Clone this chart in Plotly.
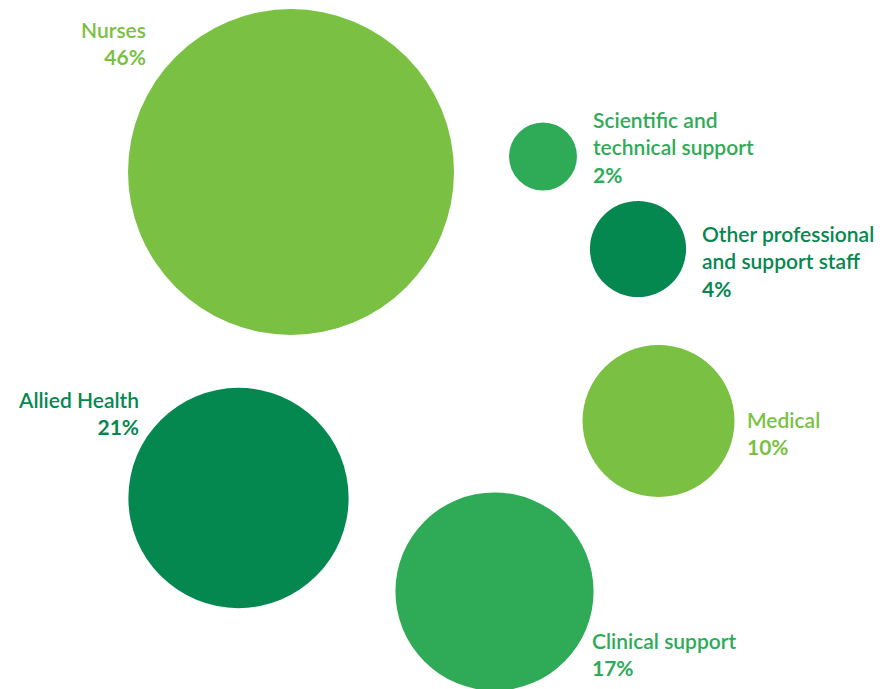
import plotly.graph_objects as go

# Data
categories = ["Nurses", "Scientific and<br>technical support", "Other professional<br>and support staff",
              "Medical", "Allied Health", "Clinical support"]
percent = [46, 2, 4, 10, 21, 17]
# bubble layout positions (arbitrary layout units, matching page pixels)
bx = [291, 543, 638, 658.5, 238.5, 494.5]
by = [172, 156.5, 249, 421, 498, 591.5]
colors = ["#7AC143", "#2FAB58", "#05884F", "#7AC143", "#05884F", "#2FAB58"]

# label placement
lx = [147.5, 590.5, 699.5, 744.5, 141, 589.5]
ly = [42.5, 147, 261, 432.5, 413, 654]
lalign = ["right", "left", "left", "left", "right", "left"]

fig = go.Figure()
fig.add_trace(go.Scatter(
    x=bx, y=by, mode="markers",
    marker=dict(size=percent, sizemode="area", sizeref=2 * 46 / (326.0 ** 2),
                color=colors, line=dict(width=0), opacity=1),
    hoverinfo="skip", showlegend=False, cliponaxis=True,
))

for i, c in enumerate(categories):
    fig.add_annotation(
        x=lx[i], y=ly[i], xref="x", yref="y",
        text=f"{c}<br><b>{percent[i]}%</b>",
        showarrow=False, xanchor=lalign[i], yanchor="middle", align=lalign[i],
        font=dict(family="Lato", size=21, color=colors[i], weight=600),
    )

fig.update_xaxes(range=[0, 883], visible=False, fixedrange=True)
fig.update_yaxes(range=[689, 0], visible=False, fixedrange=True)
fig.update_layout(
    width=883, height=689, margin=dict(l=0, r=0, t=0, b=0),
    paper_bgcolor="white", plot_bgcolor="white",
)
fig.write_html("out.html")
